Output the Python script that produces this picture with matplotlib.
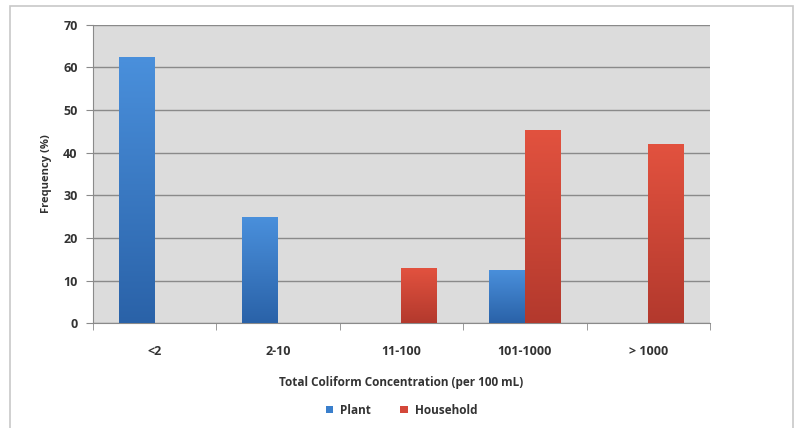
import numpy as np
import matplotlib
matplotlib.use("Agg")
import matplotlib.pyplot as plt
from matplotlib.patches import Rectangle
from matplotlib.colors import LinearSegmentedColormap

categories = ["<2", "2-10", "11-100", "101-1000", "> 1000"]
plant = [62.5, 25, 0, 12.5, 0]
household = [0, 0, 12.9, 45.3, 42.0]

plt.rcParams['font.family'] = ['Open Sans', 'DejaVu Sans']

fig = plt.figure(figsize=(7.95, 4.28), dpi=100)
# light frame round the whole chart
fig.patches.append(Rectangle((0.012, -0.02), 0.985, 1.007, transform=fig.transFigure,
                             fill=False, edgecolor="#c8c8c8", linewidth=1.2))

ax = fig.add_axes([0.117, 0.245, 0.776, 0.697])
ax.set_facecolor("#dcdcdc")

x = np.arange(len(categories))
w = 0.29
b1 = ax.bar(x - w / 2, plant, w, color="#3a7fcc", label="Plant", zorder=3)
b2 = ax.bar(x + w / 2, household, w, color="#d4473a", label="Household", zorder=3)

# vertical gradient on each bar
grad = np.linspace(0, 1, 256).reshape(-1, 1)
cm_blue = LinearSegmentedColormap.from_list("b", ["#2a62a8", "#4a90dc"])
cm_red = LinearSegmentedColormap.from_list("r", ["#b3392d", "#e2523f"])
for bars, cm in ((b1, cm_blue), (b2, cm_red)):
    for bar in bars:
        h = bar.get_height()
        if h <= 0:
            continue
        x0 = bar.get_x()
        im = ax.imshow(grad, cmap=cm, aspect="auto", origin="lower",
                       extent=[x0, x0 + bar.get_width(), 0, h], zorder=4)
        im.set_clip_path(bar)

ax.set_xlim(-0.5, len(categories) - 0.5)
ax.set_ylim(0, 70)
ax.set_yticks(range(0, 71, 10))
ax.grid(axis="y", color="#8a8a8a", linewidth=1.0, zorder=1)
ax.set_xticks(x)
ax.set_xticklabels(categories)
ax.set_xticks(np.arange(-0.5, len(categories), 1), minor=True)
ax.tick_params(axis="x", which="major", length=0, pad=16, labelsize=9)
ax.tick_params(axis="x", which="minor", length=5, color="#8a8a8a")
ax.tick_params(axis="y", length=5, color="#8a8a8a", labelsize=9, pad=6)
for lab in ax.get_xticklabels() + ax.get_yticklabels():
    lab.set_fontweight("bold")
    lab.set_color("#333333")

for s in ("top", "right"):
    ax.spines[s].set_visible(False)
for s in ("left", "bottom"):
    ax.spines[s].set_color("#8a8a8a")

ax.set_xlabel("Total Coliform Concentration (per 100 mL)", fontsize=8.5,
              fontweight="bold", color="#333333", labelpad=13)
ax.set_ylabel("Frequency (%)", fontsize=8, fontweight="bold", color="#333333", labelpad=8)

leg = ax.legend(loc="upper center", bbox_to_anchor=(0.5, -0.235), ncol=2, frameon=False,
                fontsize=8.5, handlelength=0.6, handleheight=0.6, columnspacing=2.5,
                handletextpad=0.6)
for t in leg.get_texts():
    t.set_fontweight("bold")
    t.set_color("#333333")

fig.savefig("out.png", dpi=100)
